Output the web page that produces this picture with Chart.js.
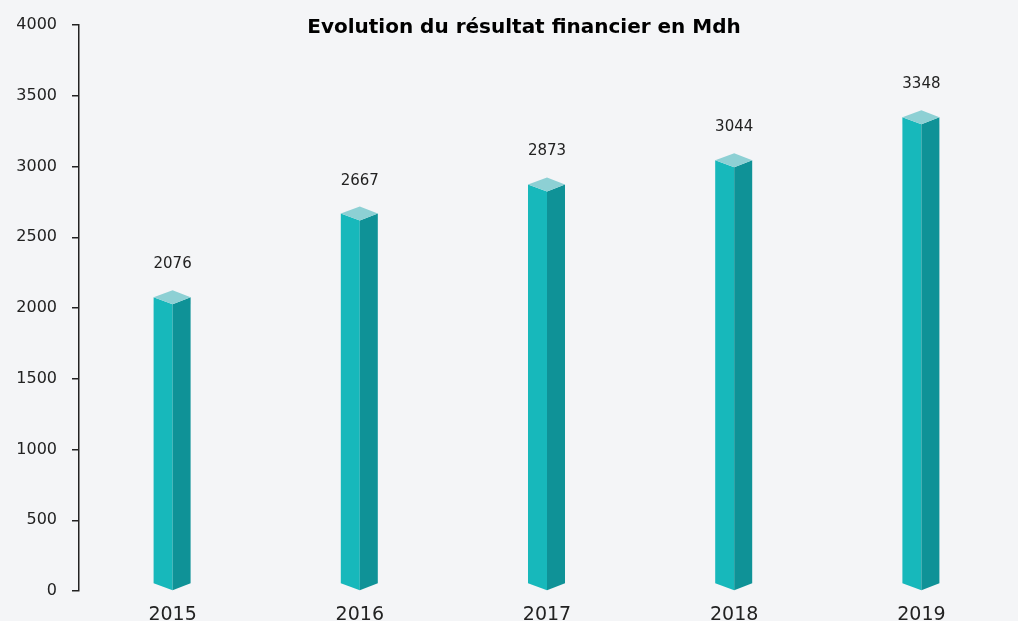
<!DOCTYPE html>
<html>
<head>
<meta charset="utf-8">
<script src="https://cdn.jsdelivr.net/npm/chart.js@4/dist/chart.umd.min.js"></script>
<style>
  html, body { margin: 0; padding: 0; background: #f4f5f7; }
  #wrap { width: 1018px; height: 621px; position: relative; }
</style>
</head>
<body>
<div id="wrap"><canvas id="resultatChart"></canvas></div>
<script>
// donnees du graphique
const categories = ['2015', '2016', '2017', '2018', '2019'];
const resultat = [2076, 2667, 2873, 3044, 3348];
const titre = 'Evolution du résultat financier en Mdh';

const faceColor = '#17b8bb';
const sideColor = '#0f9297';
const topColor = '#8dd0d4';

// barres en 3D dessinees a partir des elements du graphique
const bars3d = {
    id: 'bars3d',
    beforeDraw(chart) {
        const ctx = chart.ctx;
        ctx.save();
        ctx.fillStyle = '#f4f5f7';
        ctx.fillRect(0, 0, chart.width, chart.height);
        ctx.restore();
    },
    afterDatasetsDraw(chart) {
        const ctx = chart.ctx;
        const meta = chart.getDatasetMeta(0);
        const wl = 19, wr = 18, d = 7;
        ctx.save();
        meta.data.forEach(function (bar, i) {
            const x = bar.x, y = bar.y, base = bar.base;
            // face avant
            ctx.fillStyle = faceColor;
            ctx.beginPath();
            ctx.moveTo(x - wl, y);
            ctx.lineTo(x, y + d);
            ctx.lineTo(x, base);
            ctx.lineTo(x - wl, base - d);
            ctx.closePath();
            ctx.fill();
            // cote
            ctx.fillStyle = sideColor;
            ctx.beginPath();
            ctx.moveTo(x, y + d);
            ctx.lineTo(x + wr, y);
            ctx.lineTo(x + wr, base - d);
            ctx.lineTo(x, base);
            ctx.closePath();
            ctx.fill();
            // dessus
            ctx.fillStyle = topColor;
            ctx.beginPath();
            ctx.moveTo(x - wl, y);
            ctx.lineTo(x, y - d);
            ctx.lineTo(x + wr, y);
            ctx.lineTo(x, y + d);
            ctx.closePath();
            ctx.fill();
            // valeur
            ctx.fillStyle = '#222';
            ctx.font = '15px "DejaVu Sans"';
            ctx.textAlign = 'center';
            ctx.textBaseline = 'middle';
            ctx.fillText(String(resultat[i]), x, y - 33);
        });
        // titre
        ctx.fillStyle = '#000';
        ctx.font = 'bold 20px "DejaVu Sans"';
        ctx.textAlign = 'center';
        ctx.textBaseline = 'middle';
        ctx.fillText(titre, 524, 28);
        ctx.restore();
    }
};

new Chart(document.getElementById('resultatChart'), {
    type: 'bar',
    data: {
        labels: categories,
        datasets: [{
            label: titre,
            data: resultat,
            backgroundColor: 'rgba(0,0,0,0)',
            barThickness: 37
        }]
    },
    options: {
        responsive: true,
        maintainAspectRatio: false,
        animation: false,
        layout: { padding: { top: 25, right: 3, bottom: 0, left: 0 } },
        plugins: {
            legend: { display: false },
            tooltip: { enabled: false }
        },
        scales: {
            x: {
                grid: { display: false },
                border: { display: false },
                ticks: { color: '#222', font: { family: 'DejaVu Sans', size: 19 }, padding: 5 },
                afterFit: function (scale) { scale.height = 30; }
            },
            y: {
                min: 0,
                max: 4000,
                ticks: {
                    stepSize: 500,
                    color: '#222',
                    font: { family: 'DejaVu Sans', size: 16 },
                    padding: 15,
                    callback: function (v) { return String(v); }
                },
                grid: { drawOnChartArea: false, drawTicks: true, tickLength: 7, color: '#222', lineWidth: 1.5 },
                border: { display: true, color: '#222', width: 1.5 },
                afterFit: function (scale) { scale.width = 79; }
            }
        }
    },
    plugins: [bars3d]
});
</script>
</body>
</html>
